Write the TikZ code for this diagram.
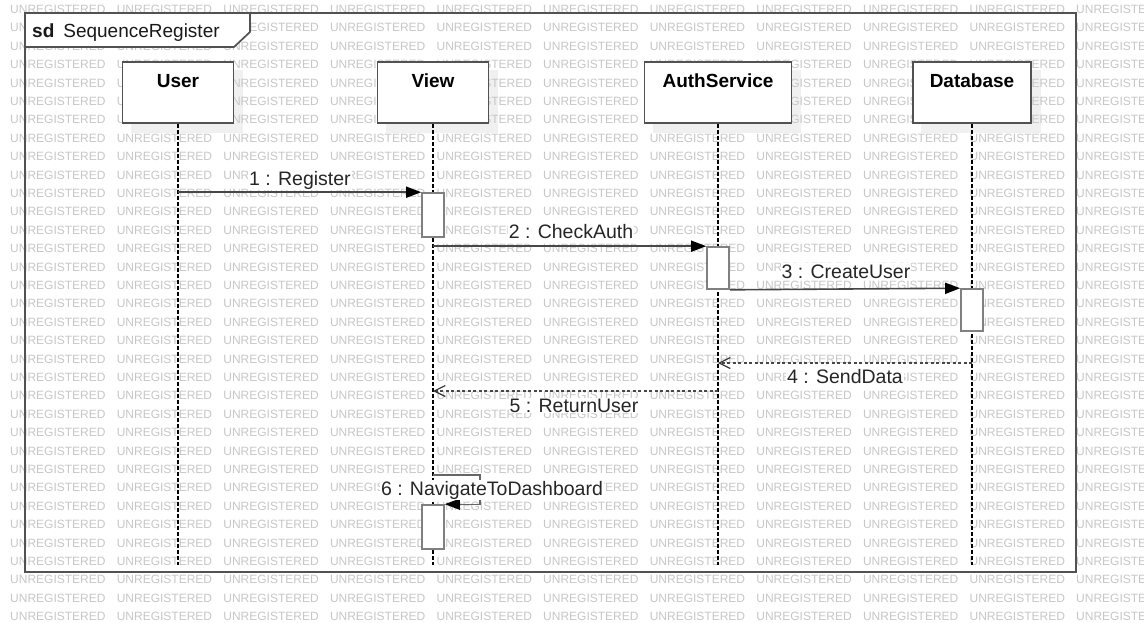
\documentclass[tikz,border=0pt]{standalone}
\usepackage{fontspec}
\setmainfont{Liberation Sans}
\usetikzlibrary{arrows.meta}
\pgfdeclarelayer{bg}
\pgfdeclarelayer{wm}
\pgfdeclarelayer{lines}
\pgfsetlayers{bg,wm,lines,main}

\begin{document}
\begin{tikzpicture}[x=1pt,y=-1pt,
  head/.style={draw=black!68, line width=1.6pt, fill=white, anchor=base,
    font=\fontsize{19}{22}\selectfont\bfseries,
    text height=25pt, text depth=36pt, inner ysep=0pt, inner xsep=0pt},
  shade/.style={fill=black!6, draw=none},
  act/.style={draw=black!50, line width=1.6pt, fill=white, minimum width=22pt,
    inner sep=0pt},
  lifeline/.style={black, line width=1.1pt, dash pattern=on 4pt off 2pt},
  msg/.style={black!72, line width=1.6pt, -{Triangle[length=15pt,width=11pt,black]}},
  reply/.style={black!72, line width=1.4pt, dash pattern=on 3pt off 2.5pt,
    -{Straight Barb[length=11pt,width=11pt,black!80,line width=1.2pt]}},
  lbl/.style={fill=white, anchor=base, inner sep=1pt,
    font=\fontsize{19.5}{22}\selectfont, text=black!85},
  wmark/.style={anchor=west, inner sep=0pt, text=black!22,
    font=\fontsize{12}{14}\selectfont},
  frameline/.style={draw=black!68, line width=1.7pt}
]
\useasboundingbox (0,0) rectangle (1144,622);
\clip (0,0) rectangle (1144,622);

% frame of the interaction
\draw[frameline] (25,13) rectangle (1076,572);

% lifeline heads
\node[head, minimum width=111pt] (user) at (178,87) {User};
\node[head, minimum width=111pt] (view) at (433,87) {View};
\node[head, minimum width=147pt] (auth) at (718,87) {AuthService};
\node[head, minimum width=118pt] (db)   at (972,87) {Database};

% ends of the lifelines
\coordinate (bot) at (0,565);
\coordinate (userEnd) at (user |- bot);
\coordinate (viewEnd) at (view |- bot);
\coordinate (authEnd) at (auth |- bot);
\coordinate (dbEnd)   at (db |- bot);

% activation bars
\node[act, minimum height=44pt] (a1) at (433,215) {};
\node[act, minimum height=42pt] (a2) at (718,268) {};
\node[act, minimum height=42pt] (a3) at (972,310) {};
\node[act, minimum height=44pt] (a4) at (433,527) {};

% rows for the returns and the self call
\coordinate (m4y) at (0,363);
\coordinate (m5y) at (0,391);
\coordinate (m6y) at (0,475);
\coordinate (m1s) at (user |- a1.north);
\coordinate (m2s) at (view |- a2.north);
\coordinate (m4s) at (db |- m4y);
\coordinate (m4e) at (auth |- m4y);
\coordinate (m5s) at (auth |- m5y);
\coordinate (m5e) at (view |- m5y);
\coordinate (m6s) at (view |- m6y);
\coordinate (m6c) at (480,475);

% message labels
\node[lbl] (l1) at (300,185) {1 : Register};
\node[lbl] (l2) at (571,238) {2 : CheckAuth};
\node[lbl] (l3) at (846,278) {3 : CreateUser};
\node[lbl] (l4) at (845,383) {4 : SendData};
\node[lbl] (l5) at (574,412) {5 : ReturnUser};
\node[lbl] (l6) at (492,495) {6 : NavigateToDashboard};

% diagram tab
\draw[frameline, fill=white] (25,13) -- (250,13) -- (250,32) -- (234,47) -- (25,47) -- cycle;
\node[anchor=base west, inner sep=0pt, font=\fontsize{19}{22}\selectfont, text=black!90]
  (title) at (32,37) {\textbf{sd}\hspace{9pt}SequenceRegister};

\begin{pgfonlayer}{bg}
  \fill[white] (0,0) rectangle (1144,622);
  \foreach \n in {user,view,auth,db}
    \fill[shade] ([shift={(9pt,-9pt)}]\n.south west) rectangle ([shift={(9pt,-9pt)}]\n.north east);
\end{pgfonlayer}

\begin{pgfonlayer}{lines}
  \draw[lifeline] (user.south) -- (userEnd);
  \draw[lifeline] (view.south) -- (viewEnd);
  \draw[lifeline] (auth.south) -- (authEnd);
  \draw[lifeline] (db.south) -- (dbEnd);
  \draw[msg] (m1s) -- (a1.north west);
  \draw[msg] (m2s) -- (a2.north west);
  \draw[msg] (a2.south east) -- (a3.north west);
  \draw[reply] (m4s) -- (m4e);
  \draw[reply] (m5s) -- (m5e);
  \draw[msg, black!60, line width=1.3pt] (m6s) -- (m6c) |- (a4.north east);
\end{pgfonlayer}

\begin{pgfonlayer}{wm}
  \foreach \j in {0,...,33}
    \foreach \k in {0,...,10}
      \node[wmark] (w\j-\k) at ({10+106.6*\k},{9.4+18.4*\j}) {UNREGISTERED};
\end{pgfonlayer}
\end{tikzpicture}
\end{document}
